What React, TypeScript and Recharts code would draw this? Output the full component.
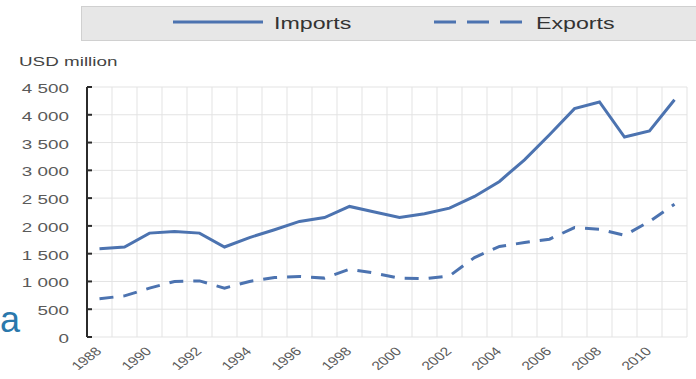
import { LineChart, Line, XAxis, YAxis, CartesianGrid, Legend } from "recharts";

const years = [
  1988, 1989, 1990, 1991, 1992, 1993, 1994, 1995, 1996, 1997, 1998, 1999,
  2000, 2001, 2002, 2003, 2004, 2005, 2006, 2007, 2008, 2009, 2010, 2011,
];
const imports = [
  1590, 1620, 1870, 1900, 1870, 1620, 1790, 1930, 2080, 2150, 2350, 2250,
  2150, 2220, 2320, 2530, 2800, 3190, 3640, 4110, 4230, 3600, 3710, 4270,
];
const exports = [
  690, 740, 880, 1000, 1010, 880, 1000, 1070, 1090, 1060, 1220, 1150,
  1060, 1050, 1100, 1430, 1630, 1700, 1760, 1970, 1940, 1830, 2080, 2390,
];
const seriesNames = ["Imports", "Exports"];
const yTicks = [0, 500, 1000, 1500, 2000, 2500, 3000, 3500, 4000, 4500];
const labelYears = [1988, 1990, 1992, 1994, 1996, 1998, 2000, 2002, 2004, 2006, 2008, 2010];
// tick marks sit between the years
const yearEdges = [...years.map((y) => y - 0.5), years[years.length - 1] + 0.5];

const data = years.map((year, i) => ({ year, Imports: imports[i], Exports: exports[i] }));

const LINE = "#4c73b0";
const AXIS = "#2b2b2b";
const FONT = "'Liberation Sans', Arial, sans-serif";
const STRETCH = 1.45; // the source image is stretched sideways

const fmt = (v: number) => String(v).replace(/\B(?=(\d{3})+(?!\d))/g, " ");

function YTick(props: any) {
  const { x, y, payload } = props;
  return (
    <g>
      <line x1={x + 17} x2={x + 22} y1={y} y2={y} stroke={AXIS} strokeWidth={2} />
      <text
        transform={`translate(${x - 1},${y + 6}) scale(${STRETCH},1)`}
        textAnchor="end"
        fontFamily={FONT}
        fontSize={13}
        fill="#5a5a5a"
      >
        {fmt(payload.value)}
      </text>
    </g>
  );
}

function EdgeTick(props: any) {
  const { x, y } = props;
  return <line x1={x} x2={x} y1={y} y2={y - 5} stroke={AXIS} strokeWidth={2} />;
}

function YearTick(props: any) {
  const { x, y, payload } = props;
  return (
    <text
      transform={`translate(${x + 3},${y + 15}) scale(1.3,1) rotate(-45)`}
      textAnchor="end"
      fontFamily={FONT}
      fontSize={12}
      fill="#5a5a5a"
    >
      {payload.value}
    </text>
  );
}

function LegendBox(props: any) {
  const items = props.payload || [];
  const ordered = seriesNames
    .map((n) => items.find((it: any) => it.value === n))
    .filter(Boolean);
  return (
    <svg width={620} height={35} style={{ display: "block" }}>
      <rect x={0.5} y={0.5} width={640} height={34} fill="#e7e7e7" stroke="#d0d0d0" />
      {ordered.map((it: any, i: number) => {
        const x0 = i === 0 ? 92 : 353;
        return (
          <g key={it.value}>
            <line
              x1={x0}
              x2={x0 + (i === 0 ? 90 : 93)}
              y1={16}
              y2={16}
              stroke={LINE}
              strokeWidth={3}
              strokeDasharray={i === 0 ? undefined : "22 11"}
            />
            <text
              transform={`translate(${x0 + (i === 0 ? 101 : 102)},${23}) scale(${STRETCH},1)`}
              fontFamily={FONT}
              fontSize={16}
              fill="#333"
            >
              {it.value}
            </text>
          </g>
        );
      })}
    </svg>
  );
}

export default function App() {
  return (
    <div style={{ position: "absolute", left: 0, top: 0, width: 696, height: 379, background: "#fff", overflow: "hidden" }}>
      <LineChart width={696} height={379} data={data} margin={{ top: 87, right: 9, bottom: 0, left: 0 }}>
        <CartesianGrid xAxisId="edges" stroke="#e3e3e3" strokeWidth={1} />
        <XAxis
          xAxisId="edges"
          dataKey="year"
          type="number"
          domain={[yearEdges[0], yearEdges[yearEdges.length - 1]]}
          ticks={yearEdges}
          height={0}
          tickSize={0}
          tickMargin={0}
          tick={<EdgeTick />}
          axisLine={{ stroke: AXIS, strokeWidth: 2 }}
          tickLine={false}
          interval={0}
        />
        <XAxis
          xAxisId="labels"
          dataKey="year"
          type="number"
          domain={[yearEdges[0], yearEdges[yearEdges.length - 1]]}
          ticks={labelYears}
          height={42}
          tickSize={0}
          tickMargin={0}
          tick={<YearTick />}
          axisLine={false}
          tickLine={false}
          interval={0}
        />
        <YAxis
          domain={[0, 4500]}
          ticks={yTicks}
          width={87}
          tickSize={0}
          tickMargin={17}
          tick={<YTick />}
          axisLine={{ stroke: AXIS, strokeWidth: 2 }}
          tickLine={false}
          interval={0}
        />
        <Legend
          layout="horizontal"
          verticalAlign="middle"
          align="center"
          content={<LegendBox />}
          wrapperStyle={{ top: 6, left: 81, width: 620, height: 35 }}
        />
        <Line
          xAxisId="edges"
          dataKey="Imports"
          stroke={LINE}
          strokeWidth={3}
          dot={false}
          isAnimationActive={false}
        />
        <Line
          xAxisId="edges"
          dataKey="Exports"
          stroke={LINE}
          strokeWidth={3}
          strokeDasharray="14 10"
          dot={false}
          isAnimationActive={false}
        />
      </LineChart>
      <svg width={696} height={379} style={{ position: "absolute", left: 0, top: 0, pointerEvents: "none" }}>
        <text
          transform={`translate(19,66) scale(${STRETCH},1)`}
          fontFamily={FONT}
          fontSize={13}
          fill="#444"
        >
          USD million
        </text>
        <text x={0} y={332} fontFamily={FONT} fontSize={36} fill="#2a78ac">
          a
        </text>
      </svg>
    </div>
  );
}
